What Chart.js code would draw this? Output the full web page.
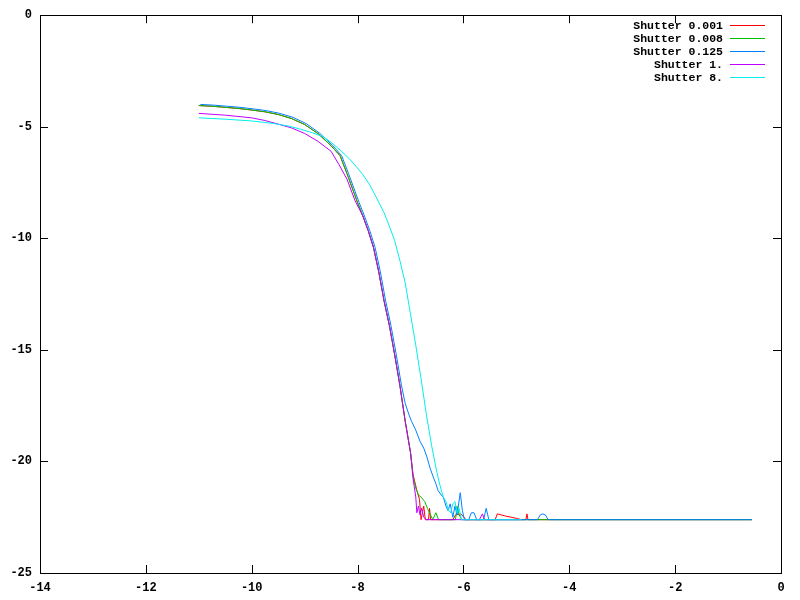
<!DOCTYPE html>
<html>
<head>
<meta charset="utf-8">
<title>Shutter curves</title>
<script src="https://cdn.jsdelivr.net/npm/chart.js@4/dist/chart.umd.min.js"></script>
<style>
    body { margin: 0; background: #fff; }
    canvas { display: block; }
</style>
</head>
<body>
<canvas id="chartShutter" width="800" height="600"></canvas>
<script>
'use strict';

//colors

var colorRed = "rgb(255,0,0)";
var colorGreen = "rgb(0,192,0)";
var colorBlue = "rgb(0,128,255)";
var colorMagenta = "rgb(192,0,255)";
var colorCyan = "rgb(0,238,238)";
var colorAxis = "rgb(0,0,0)";

var tickFont = { family: "'Liberation Mono', 'DejaVu Sans Mono', monospace", size: 12, weight: 'bold' };

//data, the curves bottom out at about -22.61

const labels = ['Shutter 0.001', 'Shutter 0.008', 'Shutter 0.125', 'Shutter 1.', 'Shutter 8.'];

const greenX = [-11, -10.75, -10.5, -10.25, -10, -9.75, -9.5, -9.25, -9.0, -8.75, -8.5, -8.33, -8.2, -8.1, -8.0, -7.9, -7.8, -7.7, -7.6, -7.5, -7.4, -7.3, -7.2, -7.1, -7.0,
    -6.95, -6.9, -6.85, -6.8, -6.73, -6.68, -6.62, -6.58, -6.52, -6.47, -6.15, -6.12, -6.08, -6.03, -4.6, -0.55];
const greenY = [-4.05, -4.08, -4.13, -4.18, -4.25, -4.33, -4.45, -4.63, -4.9, -5.3, -5.85, -6.3, -7.1, -7.75, -8.4, -9.0, -9.65, -10.4, -11.5, -12.8, -13.9, -15.2, -16.6, -18.2, -19.6,
    -20.7, -21.2, -21.5, -21.6, -21.8, -22.1, -22.4, -22.61, -22.3, -22.61, -22.61, -22.0, -22.4, -22.61, -22.61, -22.61];

const redX = [-11, -10.75, -10.5, -10.25, -10, -9.75, -9.5, -9.25, -9.0, -8.75, -8.5, -8.33, -8.2, -8.1, -8.0, -7.9, -7.8, -7.7, -7.6, -7.5, -7.4, -7.3, -7.2, -7.1, -7.0,
    -6.95, -6.88, -6.83, -6.8, -6.75, -6.72, -6.66, -6.64, -6.62, -6.2, -6.15, -6.05, -5.95, -5.4, -5.36, -5.2, -5.0, -4.9, -4.82, -4.8, -4.78, -0.55];
const redY = [-4.05, -4.08, -4.13, -4.18, -4.25, -4.33, -4.45, -4.63, -4.9, -5.3, -5.85, -6.3, -7.1, -7.75, -8.4, -9.0, -9.65, -10.4, -11.5, -12.8, -13.9, -15.2, -16.6, -18.2, -19.6,
    -20.6, -21.3, -21.7, -22.61, -22.0, -22.61, -22.61, -22.1, -22.61, -22.61, -22.4, -22.35, -22.61, -22.61, -22.35, -22.45, -22.55, -22.61, -22.61, -22.35, -22.61, -22.61];

const blueX = [-10.97, -10.72, -10.47, -10.22, -9.97, -9.72, -9.47, -9.22, -8.97, -8.72, -8.47, -8.3, -8.17, -8.07, -7.97, -7.87, -7.77, -7.67, -7.57, -7.47, -7.37, -7.27, -7.17,
    -7.1, -7.03, -6.98, -6.9, -6.82, -6.75, -6.69, -6.63, -6.57, -6.52, -6.48, -6.42, -6.38, -6.33, -6.29, -6.25, -6.2, -6.16, -6.12, -6.06, -6.02, -5.98,
    -5.9, -5.85, -5.8, -5.75, -5.62, -5.57, -5.52, -4.6, -4.55, -4.5, -4.45, -4.4, -0.55];
const blueY = [-4.0, -4.03, -4.08, -4.13, -4.2, -4.28, -4.4, -4.58, -4.86, -5.28, -5.84, -6.3, -7.1, -7.75, -8.4, -9.0, -9.65, -10.4, -11.5, -12.8, -13.9, -15.2, -16.6,
    -17.4, -17.9, -18.2, -18.6, -19.1, -19.4, -19.8, -20.3, -20.7, -21.0, -21.3, -21.5, -21.6, -22.0, -22.2, -21.9, -22.5, -22.0, -22.4, -21.4, -22.2, -22.61,
    -22.61, -22.3, -22.3, -22.61, -22.61, -22.1, -22.61, -22.61, -22.4, -22.35, -22.4, -22.61, -22.61];

const magentaX = [-11, -10.5, -10, -9.75, -9.5, -9.25, -9.0, -8.75, -8.5, -8.35, -8.2, -8.05, -7.9, -7.8, -7.7, -7.6, -7.5, -7.4, -7.3, -7.2, -7.1, -7.0,
    -6.95, -6.9, -6.88, -6.85, -6.82, -6.79, -6.75, -6.7, -5.7, -5.64, -5.6, -4.9];
const magentaY = [-4.4, -4.48, -4.6, -4.72, -4.88, -5.05, -5.3, -5.65, -6.1, -6.7, -7.35, -8.3, -9.0, -9.65, -10.4, -11.5, -12.8, -13.9, -15.2, -16.6, -18.2, -19.6,
    -20.8, -21.6, -22.3, -22.0, -22.4, -22.1, -22.5, -22.61, -22.61, -22.35, -22.61, -22.61];

const cyanX = [-11, -10.5, -10, -9.6, -9.3, -9.09, -8.85, -8.65, -8.5, -8.33, -8.15, -8.02, -7.9, -7.77, -7.65, -7.5, -7.4, -7.3, -7.2, -7.1, -7.0, -6.9, -6.8, -6.7, -6.6, -6.5,
    -6.44, -6.38, -6.33, -6.28, -6.24, -6.2, -6.16, -6.12, -6.08, -6.04, -4.9];
const cyanY = [-4.6, -4.66, -4.74, -4.85, -4.97, -5.1, -5.27, -5.45, -5.7, -6.04, -6.45, -6.8, -7.15, -7.6, -8.15, -8.85, -9.45, -10.1, -11.0, -12.0, -13.4, -14.8, -16.3, -17.9, -19.3, -20.5,
    -21.1, -21.6, -21.8, -22.2, -22.3, -21.9, -21.8, -22.3, -22.1, -22.61, -22.61];

//helpers

function toPoints(xs, ys) {
    return xs.map((x, i) => ({ x: x, y: ys[i] }));
}

function makeDataset(label, xs, ys, color, order) {
    return {
        label: label,
        data: toPoints(xs, ys),
        borderColor: color,
        backgroundColor: color,
        borderWidth: 1,
        pointRadius: 0,
        tension: 0,
        fill: false,
        order: order   //gnuplot draws the first curve at the bottom
    };
}

//frame, inward ticks and the key, gnuplot style

const gnuplotFrame = {
    id: 'gnuplotFrame',
    beforeDatasetsDraw(chart) {
        var ctx = chart.ctx;
        var a = chart.chartArea;
        var tickLen = 8;
        ctx.save();
        ctx.strokeStyle = colorAxis;
        ctx.lineWidth = 1;
        ctx.strokeRect(Math.round(a.left) + 0.5, Math.round(a.top) + 0.5, Math.round(a.right - a.left), Math.round(a.bottom - a.top));
        ctx.beginPath();
        chart.scales.x.ticks.forEach(t => {
            var px = Math.round(chart.scales.x.getPixelForValue(t.value)) + 0.5;
            ctx.moveTo(px, a.bottom); ctx.lineTo(px, a.bottom - tickLen);
            ctx.moveTo(px, a.top); ctx.lineTo(px, a.top + tickLen);
        });
        chart.scales.y.ticks.forEach(t => {
            var py = Math.round(chart.scales.y.getPixelForValue(t.value)) + 0.5;
            ctx.moveTo(a.left, py); ctx.lineTo(a.left + tickLen, py);
            ctx.moveTo(a.right, py); ctx.lineTo(a.right - tickLen, py);
        });
        ctx.stroke();
        ctx.restore();
    },
    afterDraw(chart) {
        var ctx = chart.ctx;
        var textRight = 723;
        var lineStart = 730;
        var lineEnd = 765;
        var top = 25;
        var step = 13;
        ctx.save();
        ctx.font = "bold 11.5px 'Liberation Mono', 'DejaVu Sans Mono', monospace";
        ctx.textAlign = 'right';
        ctx.textBaseline = 'middle';
        chart.data.datasets.forEach((ds, i) => {
            var y = top + i * step;
            ctx.fillStyle = colorAxis;
            ctx.fillText(ds.label, textRight, y + 1);
            //sample line as a 1px rect so it stays sharp
            ctx.fillStyle = ds.borderColor;
            ctx.fillRect(lineStart, Math.round(y), lineEnd - lineStart, 1);
        });
        ctx.restore();
    }
};

//chart

const chartShutterData = {
    datasets: [
        makeDataset(labels[0], redX, redY, colorRed, 5),
        makeDataset(labels[1], greenX, greenY, colorGreen, 4),
        makeDataset(labels[2], blueX, blueY, colorBlue, 3),
        makeDataset(labels[3], magentaX, magentaY, colorMagenta, 2),
        makeDataset(labels[4], cyanX, cyanY, colorCyan, 1)
    ]
};

const chartShutterConfig = {
    type: 'line',
    data: chartShutterData,
    plugins: [gnuplotFrame],
    options: {
        responsive: false,
        animation: false,
        layout: { padding: { top: 13, right: 19, left: 0, bottom: 0 } },
        plugins: {
            legend: { display: false },
            tooltip: { enabled: false }
        },
        scales: {
            x: {
                type: 'linear',
                min: -14,
                max: 0,
                grid: { display: false, drawTicks: false },
                border: { display: false },
                ticks: { stepSize: 2, color: colorAxis, font: tickFont, padding: 8, maxRotation: 0 },
                afterFit: function (scale) { scale.height = 27; }
            },
            y: {
                type: 'linear',
                min: -25,
                max: 0,
                grid: { display: false, drawTicks: false },
                border: { display: false },
                ticks: { stepSize: 5, color: colorAxis, font: tickFont, padding: 8 },
                afterFit: function (scale) { scale.width = 40; }
            }
        }
    }
};

window.onload = function () {
    new Chart(document.getElementById('chartShutter'), chartShutterConfig);
};
</script>
</body>
</html>
